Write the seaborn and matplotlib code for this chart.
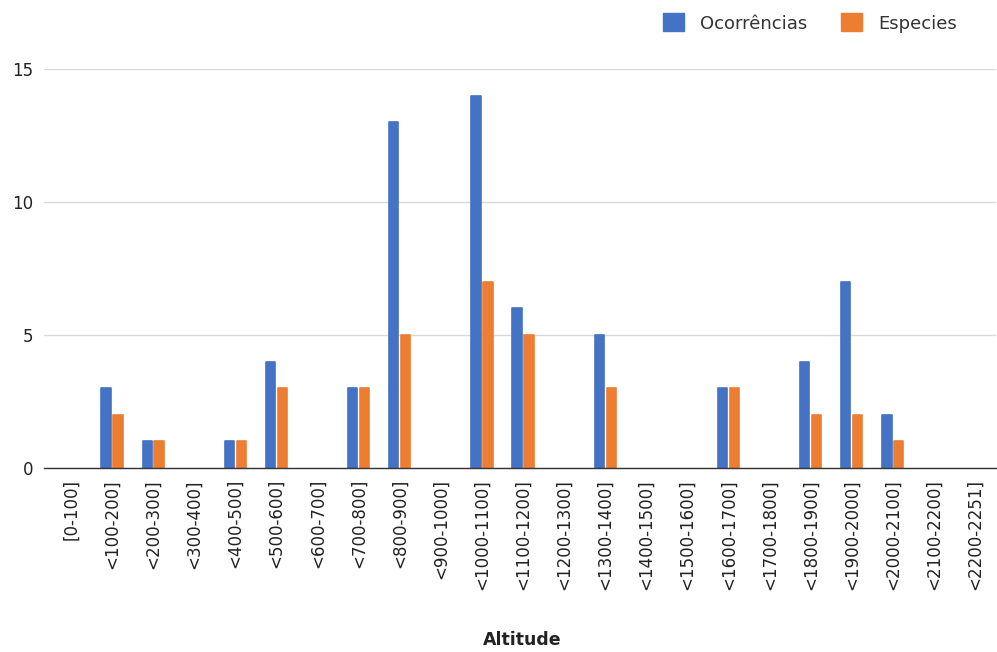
import matplotlib
matplotlib.use("Agg")
import matplotlib.pyplot as plt
import seaborn as sns
import pandas as pd
from matplotlib.patches import Patch

categories = ["[0-100]", "<100-200]", "<200-300]", "<300-400]", "<400-500]", "<500-600]",
              "<600-700]", "<700-800]", "<800-900]", "<900-1000]", "<1000-1100]", "<1100-1200]",
              "<1200-1300]", "<1300-1400]", "<1400-1500]", "<1500-1600]", "<1600-1700]",
              "<1700-1800]", "<1800-1900]", "<1900-2000]", "<2000-2100]", "<2100-2200]",
              "<2200-2251]"]
ocorrencias = [0, 3, 1, 0, 1, 4, 0, 3, 13, 0, 14, 6, 0, 5, 0, 0, 3, 0, 4, 7, 2, 0, 0]
especies = [0, 2, 1, 0, 1, 3, 0, 3, 5, 0, 7, 5, 0, 3, 0, 0, 3, 0, 2, 2, 1, 0, 0]
series_names = ["Ocorrências", "Especies"]
yticks = [0, 5, 10, 15]

df = pd.DataFrame({
    "Altitude": categories * 2,
    "valor": ocorrencias + especies,
    "serie": [series_names[0]] * len(categories) + [series_names[1]] * len(categories),
})

sns.set_theme(style="white")
plt.rcParams["font.family"] = ["DejaVu Sans"]

W, H = 997, 652
fig = plt.figure(figsize=(W / 100, H / 100), dpi=100)
ax = fig.add_axes([44 / W, 1 - 468 / H, 952 / W, 399 / H])

palette = {series_names[0]: "#4472C4", series_names[1]: "#ED7D31"}
sns.barplot(data=df, x="Altitude", y="valor", hue="serie", palette=palette,
            width=0.58, gap=0.22, ax=ax, legend=False, saturation=1)

# soften the bar corners a little
for p in ax.patches:
    if p.get_height() > 0:
        p.set_edgecolor(p.get_facecolor())
        p.set_linewidth(1.2)
        p.set_joinstyle("round")

ax.set_ylim(0, 15)
ax.set_xlim(-0.657, len(categories) - 1 + 0.51)
ax.set_yticks(yticks)
ax.yaxis.grid(True, color="#d9d9d9", linewidth=1.0)
ax.set_axisbelow(True)
for s in ["top", "right", "left"]:
    ax.spines[s].set_visible(False)
ax.spines["bottom"].set_color("#333333")
ax.spines["bottom"].set_linewidth(1.0)

ax.tick_params(axis="y", labelsize=12, colors="#222222", length=0, pad=8)
ax.tick_params(axis="x", labelsize=12, colors="#222222", length=0, pad=8, rotation=90)
ax.set_ylabel("")
ax.set_xlabel("Altitude", fontsize=12.5, fontweight="bold", color="#222222")
ax.xaxis.set_label_coords(0.502, -0.431)
ax.xaxis.label.set_va("center")

handles = [Patch(facecolor=palette[n], edgecolor=palette[n]) for n in series_names]
fig.legend(handles, series_names, loc="center left", bbox_to_anchor=(663 / W, 1 - 23 / H),
           ncol=2, frameon=False, fontsize=13, handlelength=1.16, handleheight=1.16,
           columnspacing=1.88, handletextpad=0.89, borderpad=0, borderaxespad=0,
           labelcolor="#333333")

fig.savefig("out.png", dpi=100, facecolor="white")
